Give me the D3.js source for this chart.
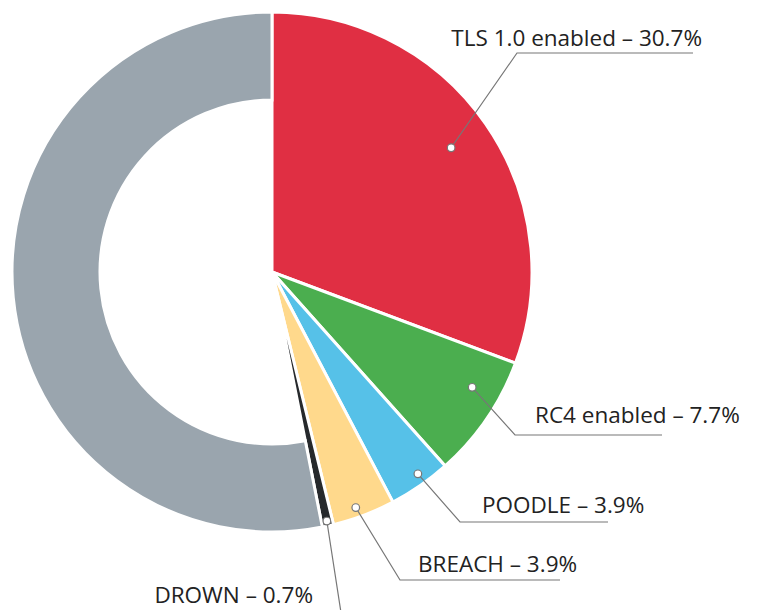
<!DOCTYPE html>
<html>
<head>
<meta charset="utf-8">
<script src="https://cdn.jsdelivr.net/npm/d3@7"></script>
<style>
  body { margin: 0; background: #fff; }
  svg { display: block; }
  text { font-family: "Open Sans", sans-serif; fill: #222; }
</style>
</head>
<body>
<svg id="chart" width="758" height="610"></svg>
<script>
// slice data; last slice is the remainder
var categories = ["TLS 1.0 enabled", "RC4 enabled", "POODLE", "BREACH", "DROWN", "Other"];
var values = [30.7, 7.7, 3.9, 3.9, 0.7, 53.1];
var labels = ["TLS 1.0 enabled \u2013 30.7%", "RC4 enabled \u2013 7.7%", "POODLE \u2013 3.9%", "BREACH \u2013 3.9%", "DROWN \u2013 0.7%", ""];
var colours = ["#e02f43", "#4bae4f", "#56c1e8", "#ffd98c", "#26292c", "#9aa5ae"];

var width = 758, height = 610;
var cx = 272, cy = 272;
var outer = 260, donutInner = 172;

var svg = d3.select("#chart");
var g = svg.append("g").attr("transform", "translate(" + cx + "," + cy + ")");

var data = categories.map(function(c, i) {
    return { name: c, value: values[i], label: labels[i], colour: colours[i], idx: i };
});

var pie = d3.pie().sort(null).value(function(d) { return d.value; });
var arcs = pie(data);

// the remainder slice is drawn as a ring, the others as full wedges
var arc = d3.arc()
    .outerRadius(outer)
    .innerRadius(function(d) { return d.data.idx === 5 ? donutInner : 0; });

g.selectAll("path.slice").data(arcs)
    .enter().append("path").attr("class", "slice")
    .attr("d", arc)
    .attr("fill", function(d) { return d.data.colour; })
    .attr("stroke", "#fff")
    .attr("stroke-width", 3)
    .attr("stroke-linejoin", "miter");

// label layout: where the dot sits in the slice (fraction of angle, radius),
// elbow of the leader line, end of the line, text position
var layout = [
    { t: 0.5,  r: 218, elbow: [517, 53],  end: [693, 53],  tx: 702, ty: 46,  anchor: "end" },
    { t: 0.34, r: 231, elbow: [515, 435], end: [662, 435], tx: 535, ty: 423, anchor: "start" },
    { t: 0.42, r: 249, elbow: [460, 522], end: [608, 522], tx: 482, ty: 513, anchor: "start" },
    { t: 0.58, r: 250, elbow: [400, 580], end: [560, 580], tx: 418, ty: 572, anchor: "start" },
    { t: 0.5,  r: 255, elbow: [344, 632], end: [500, 632], tx: 313, ty: 603, anchor: "end" }
];

var labelled = arcs.filter(function(d) { return d.data.label !== ""; });

var ann = svg.append("g");
labelled.forEach(function(d, i) {
    var L = layout[i];
    var a = d.startAngle + (d.endAngle - d.startAngle) * L.t;
    var px = cx + L.r * Math.sin(a);
    var py = cy - L.r * Math.cos(a);

    ann.append("polyline")
        .attr("points", [[px, py], L.elbow, L.end].map(function(p) { return p.join(","); }).join(" "))
        .attr("fill", "none")
        .attr("stroke", "#777")
        .attr("stroke-width", 1.2);

    ann.append("circle")
        .attr("cx", px).attr("cy", py).attr("r", 3.8)
        .attr("fill", "#fff")
        .attr("stroke", "#777")
        .attr("stroke-width", 1.2);

    ann.append("text")
        .attr("x", L.tx).attr("y", L.ty)
        .attr("text-anchor", L.anchor)
        .attr("font-size", 22.5)
        .text(d.data.label);
});
</script>
</body>
</html>
